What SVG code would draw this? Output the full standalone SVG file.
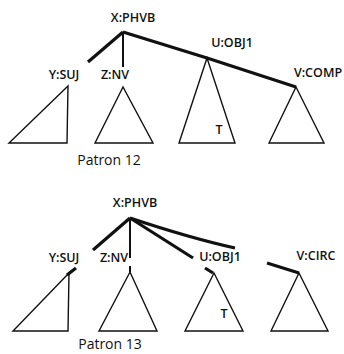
<svg xmlns="http://www.w3.org/2000/svg" width="344" height="354" viewBox="0 0 344 354">
<style>
.lbl{font-family:"Open Sans","DejaVu Sans",sans-serif;font-size:12.5px;font-weight:600;fill:#111}
.cap{font-family:"Open Sans","DejaVu Sans",sans-serif;font-size:14px;fill:#111}
.tri{fill:none;stroke:#111;stroke-width:1.4;stroke-linejoin:miter}
.edge{fill:none;stroke:#111;stroke-width:3.2;stroke-linecap:butt}
.thin{fill:none;stroke:#111;stroke-width:2}
</style>
<rect width="344" height="354" fill="#fff"/>
<g id="connectors">
<path class="edge" d="M123,32 L88,62"/>
<path class="thin" d="M123,32 L123,67"/>
<path class="edge" d="M123,32 L207,58 L296,87"/>
<path class="edge" d="M130,218 L93,250"/>
<path class="thin" d="M130,218 L130,258"/>
<path class="edge" d="M130,218 L193,258"/>
<path class="edge" d="M130,218 Q190,238 235,248"/>
<path class="edge" d="M205,268 L213,273"/>
<path class="edge" d="M267,263 L299,273"/>
<path class="edge" d="M67,275 L76,268"/>
<path class="thin" d="M130,266 L130,272"/>
</g>
<g id="n1_X"><text class="lbl" x="133" y="22" text-anchor="middle">X:PHVB</text></g>
<g id="n1_Y"><text class="lbl" x="64" y="79" text-anchor="middle">Y:SUJ</text>
<path class="tri" d="M68,86 L9,143 L67,143 Z"/></g>
<g id="n1_Z"><text class="lbl" x="115" y="79" text-anchor="middle">Z:NV</text>
<path class="tri" d="M123,87 L95,143 L153,143 Z"/></g>
<g id="n1_U"><text class="lbl" x="232" y="47" text-anchor="middle">U:OBJ1</text>
<path class="tri" d="M207,58 L179,143 L235,143 Z"/>
<text class="lbl" x="219" y="134" text-anchor="middle">T</text></g>
<g id="n1_V"><text class="lbl" x="318" y="77" text-anchor="middle">V:COMP</text>
<path class="tri" d="M296,87 L269,143 L324,143 Z"/></g>
<text class="cap" x="109" y="165" text-anchor="middle">Patron 12</text>
<g id="n2_X"><text class="lbl" x="135" y="207" text-anchor="middle">X:PHVB</text></g>
<g id="n2_Y"><text class="lbl" x="64" y="262" text-anchor="middle">Y:SUJ</text>
<path class="tri" d="M69,273 L13,331 L68,331 Z"/></g>
<g id="n2_Z"><text class="lbl" x="114" y="262" text-anchor="middle">Z:NV</text>
<path class="tri" d="M130,272 L99,331 L157,331 Z"/></g>
<g id="n2_U"><text class="lbl" x="220" y="261" text-anchor="middle">U:OBJ1</text>
<path class="tri" d="M214,273 L185,331 L243,331 Z"/>
<text class="lbl" x="224" y="318" text-anchor="middle">T</text></g>
<g id="n2_V"><text class="lbl" x="316" y="260" text-anchor="middle">V:CIRC</text>
<path class="tri" d="M299,273 L271,331 L328,331 Z"/></g>
<text class="cap" x="110" y="349" text-anchor="middle">Patron 13</text>
</svg>
